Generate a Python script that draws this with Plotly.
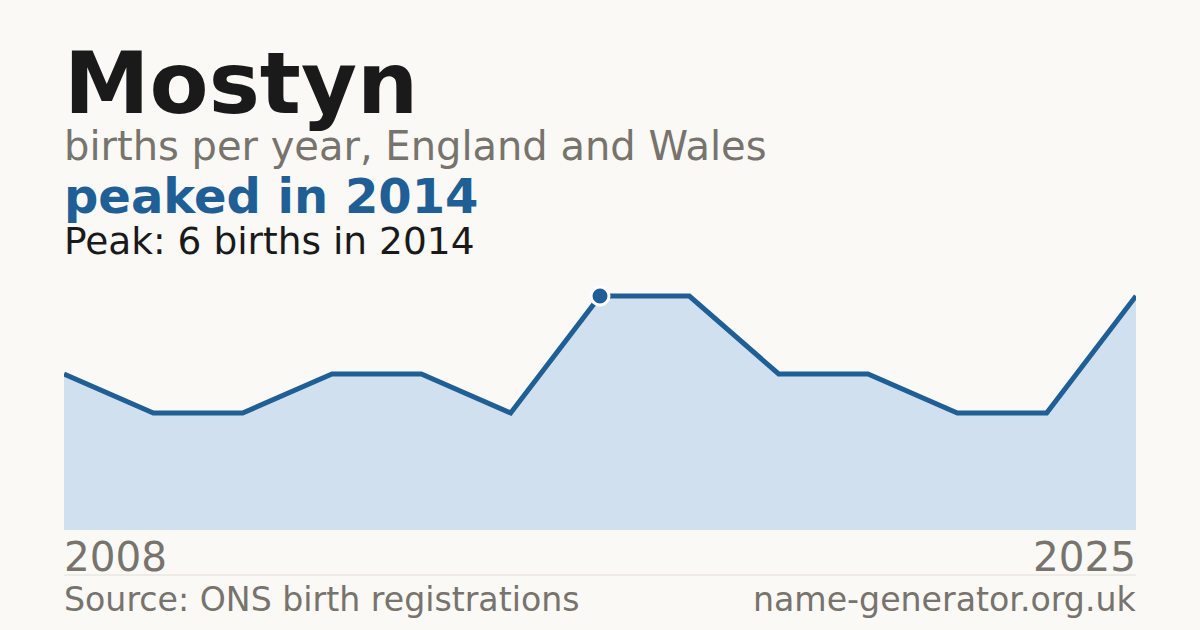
import plotly.graph_objects as go

# births per year (index positions along the x axis)
years = [2008, 2009, 2010, 2011, 2012, 2013, 2014, 2016, 2018, 2020, 2022, 2024, 2025]
births = [4, 3, 3, 4, 4, 3, 6, 6, 4, 4, 3, 3, 6]
peak_year = 2014
peak_births = 6

W, H = 1200, 630
L, R, T, B = 64, 64, 257, 100
BG = "#FAF9F5"
BLUE = "#1F5F96"
GREY = "#77736D"
FONT = "DejaVu Sans"

xs = list(range(len(years)))
peak_idx = years.index(peak_year)


def py(p):
    # pixel row -> paper y
    return (H - B - p) / (H - T - B)


fig = go.Figure()
fig.add_trace(go.Scatter(
    x=xs, y=births, mode="lines",
    line=dict(color=BLUE, width=5),
    fill="tozeroy", fillcolor="#D0E0EF",
    hoverinfo="skip",
))
fig.add_trace(go.Scatter(
    x=[xs[peak_idx]], y=[peak_births], mode="markers",
    marker=dict(color=BLUE, size=18, line=dict(color="white", width=3)),
    cliponaxis=False, hoverinfo="skip",
))

notes = [
    ("<b>Mostyn</b>", 83, 86, "#1A1A1A", 0.0, "left"),
    ("births per year, England and Wales", 146, 40, GREY, 0.0, "left"),
    ("<b>peaked in 2014</b>", 196, 48, BLUE, 0.0, "left"),
    ("Peak: 6 births in 2014", 241, 37.5, "#1A1A1A", 0.0, "left"),
    (str(years[0]), 557, 40.5, GREY, 0.0, "left"),
    (str(years[-1]), 557, 40.5, GREY, 1.0, "right"),
    ("Source: ONS birth registrations", 599, 33.2, GREY, 0.0, "left"),
    ("name-generator.org.uk", 599, 33.2, GREY, 1.0, "right"),
]
for text, yc, size, color, xpos, anchor in notes:
    fig.add_annotation(
        text=text, xref="paper", yref="paper", x=xpos, y=py(yc),
        xanchor=anchor, yanchor="middle", showarrow=False,
        xshift=-1 if anchor == "left" else 1, borderpad=0,
        font=dict(family=FONT, size=size, color=color),
    )

fig.add_shape(type="line", xref="paper", yref="paper",
              x0=0, x1=1, y0=py(575), y1=py(575),
              line=dict(color="#E2DED6", width=1))

fig.update_layout(
    width=W, height=H,
    paper_bgcolor=BG, plot_bgcolor=BG,
    margin=dict(l=L, r=R, t=T, b=B),
    showlegend=False,
    xaxis=dict(range=[0, len(years) - 1], visible=False, fixedrange=True),
    yaxis=dict(range=[0, 7], visible=False, fixedrange=True),
)

fig.write_html(
    "out.html",
    config={"displayModeBar": False},
    post_script="document.body.style.margin='0';document.body.style.background='#FAF9F5';",
)
